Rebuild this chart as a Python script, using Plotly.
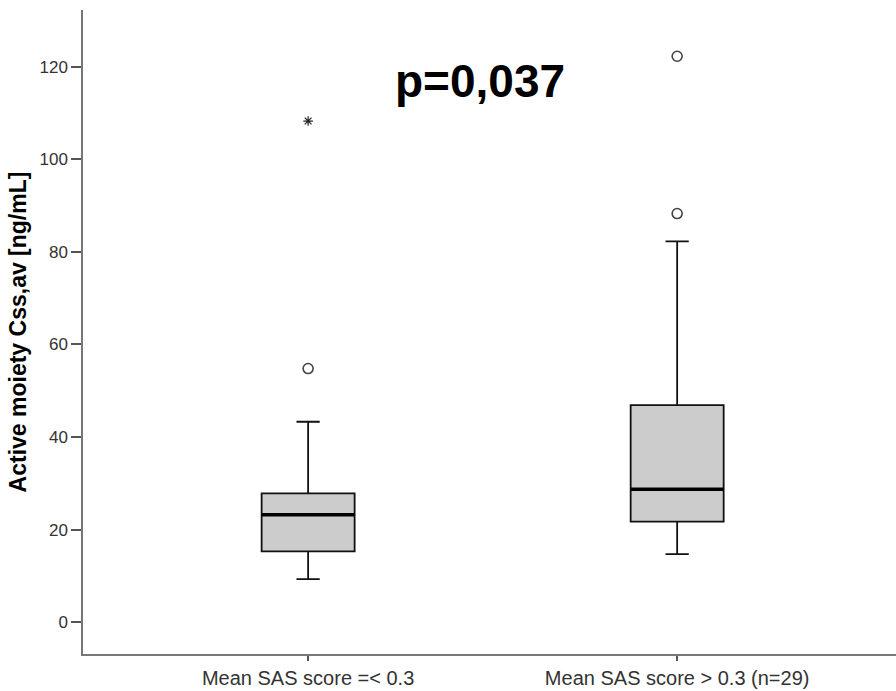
import plotly.graph_objects as go

categories = ["Mean SAS score =< 0.3", "Mean SAS score > 0.3 (n=29)"]
q1 = [15.3, 21.7]
median = [23.2, 28.7]
q3 = [27.8, 46.9]
lowerfence = [9.3, 14.7]
upperfence = [43.3, 82.3]
outliers_circle = [[54.8], [88.3, 122.3]]
outliers_star = [[108.3], []]
yticks = [0, 20, 40, 60, 80, 100, 120]
p_text = "p=0,037"

box_w = 0.252
fig = go.Figure()
for i in range(len(categories)):
    fig.add_trace(go.Box(
        x=[i], q1=[q1[i]], median=[median[i]], q3=[q3[i]],
        lowerfence=[lowerfence[i]], upperfence=[upperfence[i]],
        width=box_w, whiskerwidth=0.25,
        fillcolor="#cccccc", line=dict(color="#111111", width=1.8),
        boxpoints=False, showlegend=False, hoverinfo="skip"))
    fig.add_shape(type="line", x0=i - box_w / 2, x1=i + box_w / 2,
                  y0=median[i], y1=median[i], line=dict(color="#000000", width=3.5))
    if outliers_circle[i]:
        fig.add_trace(go.Scatter(
            x=[i] * len(outliers_circle[i]), y=outliers_circle[i], mode="markers",
            marker=dict(symbol="circle-open", size=10, color="#444444", line=dict(width=1.6)),
            showlegend=False, hoverinfo="skip"))
    if outliers_star[i]:
        fig.add_trace(go.Scatter(
            x=[i] * len(outliers_star[i]), y=outliers_star[i], mode="markers",
            marker=dict(symbol="asterisk-open", size=8, color="#222222", line=dict(width=1.2, color="#222222")),
            showlegend=False, hoverinfo="skip"))

fig.add_annotation(x=0.466, y=117.0, xref="x", yref="y", text="<b>" + p_text + "</b>",
                   showarrow=False, font=dict(family="Liberation Sans", size=46, color="#000000"))

fig.update_layout(
    width=896, height=691,
    margin=dict(l=83, r=0, t=10, b=37),
    plot_bgcolor="white", paper_bgcolor="white",
    font=dict(family="Liberation Sans", size=16, color="#333333"),
    xaxis=dict(range=[-0.61, 1.593], tickvals=[0, 1], ticktext=categories, automargin=False,
               showgrid=False, zeroline=False, showline=True, linecolor="#777777", linewidth=1.5,
               ticks="outside", ticklen=5, tickcolor="#555555", tickwidth=1.5,
               tickfont=dict(size=20, color="#333333")),
    yaxis=dict(range=[-6.9, 132.3], tickvals=yticks, automargin=False,
               showgrid=False, zeroline=False, showline=True, linecolor="#777777", linewidth=1.5,
               ticks="outside", ticklen=10, tickcolor="#555555", tickwidth=1.5,
               tickfont=dict(size=17, color="#333333"),
               title=dict(text="<b>Active moiety Css,av [ng/mL]</b>", standoff=6,
                          font=dict(size=23, color="#000000"))),
)
fig.write_html("out.html")
